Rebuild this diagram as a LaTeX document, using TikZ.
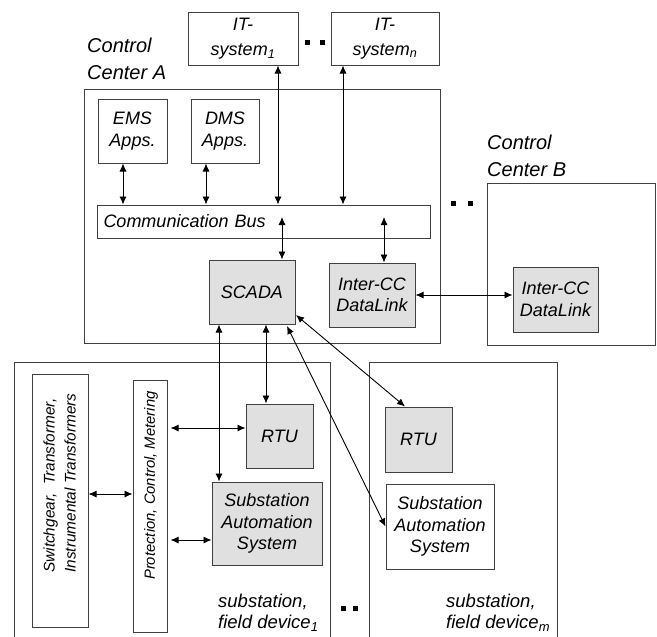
\documentclass[tikz,border=0pt]{standalone}
\usepackage{fontspec}
\setmainfont{Liberation Sans}
\usetikzlibrary{arrows.meta}
\begin{document}
\begin{tikzpicture}[x=1pt,y=-1pt,
  box/.style={draw=black!75, line width=1pt, inner sep=0pt, align=center, font=\fontsize{18}{21.5}\selectfont\itshape},
  gbox/.style={box, fill=black!12},
  rtext/.style={rotate=90, anchor=west, inner sep=0pt, align=left, font=\fontsize{15.4}{21}\selectfont\itshape},
  arr/.style={<->, >={Latex[length=8pt,width=7pt]}, line width=0.9pt},
  lbl/.style={inner sep=0pt, align=left, anchor=west, font=\fontsize{20}{27}\selectfont\itshape},
  sublbl/.style={inner sep=0pt, align=left, anchor=west, font=\fontsize{18.5}{21}\selectfont\itshape},
  sq/.style={fill=black, minimum size=5pt, inner sep=0pt}]
\useasboundingbox (0,0) rectangle (657,637);

% containers
\node[box, minimum width=356, minimum height=254] (cca) at (262,216) {};
\node[box, minimum width=168, minimum height=162] (ccb) at (571,264) {};
\node[box, minimum width=316, minimum height=283] (sub1) at (172,503.5) {};
\node[box, minimum width=188, minimum height=283] (subm) at (463,503.5) {};

% IT systems
\node[box, minimum width=110, minimum height=53, font=\fontsize{18}{25}\selectfont\itshape] (it1) at (243,38.5) {IT-\\system\textsubscript{1}};
\node[box, minimum width=108, minimum height=53, font=\fontsize{18}{25}\selectfont\itshape] (itn) at (385,38.5) {IT-\\system\textsubscript{n}};

% control center A
\node[box, minimum width=69, minimum height=64] (ems) at (132.5,131) {EMS\\Apps.};
\node[box, minimum width=68, minimum height=64] (dms) at (225,131) {DMS\\Apps.};
\node[box, minimum width=333, minimum height=33, text width=320, inner xsep=6.5pt, align=left] (bus) at (263.5,221.5) {Communication Bus};
\node[gbox, minimum width=86, minimum height=64] (scada) at (252,292) {SCADA};
\node[gbox, minimum width=86, minimum height=64] (icca) at (372,295) {Inter-CC\\DataLink};

% control center B
\node[gbox, minimum width=85, minimum height=65] (iccb) at (555.5,299.5) {Inter-CC\\DataLink};

% substation 1
\node[box, minimum width=56, minimum height=253] (sw) at (60,500.5) {};
\node[rtext] (swt) at (59.5,573) {Switchgear,\ \ Transformer,\\Instrumental Transformers};
\node[box, minimum width=34, minimum height=252] (pcm) at (150,506) {};
\node[rtext, font=\fontsize{14.8}{21}\selectfont\itshape] (pcmt) at (151,580) {Protection, Control, Metering};
\node[gbox, minimum width=67, minimum height=64] (rtu1) at (279.5,436) {RTU};
\node[gbox, minimum width=110, minimum height=83] (sas1) at (267,523.5) {Substation\\Automation\\System};

% substation m
\node[gbox, minimum width=67, minimum height=65] (rtum) at (418.5,439.5) {RTU};
\node[box, fill=white, minimum width=108, minimum height=85] (sasm) at (440,526.5) {Substation\\Automation\\System};

% labels
\node[lbl] (lcca) at (87,59) {Control\\Center A};
\node[lbl] (lccb) at (487,156) {Control\\Center B};
\node[sublbl] (ls1) at (218,613) {substation,\\field device\textsubscript{1}};
\node[sublbl] (lsm) at (446,613) {substation,\\field device\textsubscript{m}};

% dots
\node[sq] (d1) at (307,42) {}; \node[sq] (d2) at (322,42) {};
\node[sq] (d3) at (453,203) {}; \node[sq] (d4) at (470,203) {};
\node[sq] (d5) at (343,608) {}; \node[sq] (d6) at (355,608) {};

% helper coordinates
\coordinate (xems) at (123,0);
\coordinate (xdms) at (206,0);
\coordinate (xit1) at (278,0);
\coordinate (xitn) at (343,0);
\coordinate (busa) at (282,217);
\coordinate (busb) at (384,217);
\coordinate (xs1) at (219,0);
\coordinate (xr1) at (266,0);
\coordinate (scm) at (287,326);
\coordinate (scr) at (296,315);
\coordinate (xrm) at (405,0);
\coordinate (y494) at (0,494);
\coordinate (y428) at (0,428);
\coordinate (y540) at (0,540);

% connectors
\draw[arr] (xems |- ems.south) -- (xems |- bus.north);
\draw[arr] (xdms |- dms.south) -- (xdms |- bus.north);
\draw[arr] (xit1 |- it1.south) -- (xit1 |- bus.north);
\draw[arr] (xitn |- itn.south) -- (xitn |- bus.north);
\draw[arr] (busa) -- (busa |- scada.north);
\draw[arr] (busb) -- (busb |- icca.north);
\draw[arr] (icca.east) -- (iccb.west |- icca.east);
\draw[arr] (xs1 |- scada.south) -- (xs1 |- sas1.north);
\draw[arr] (xr1 |- scada.south) -- (xr1 |- rtu1.north);
\draw[arr] (scm) -- (sasm.west);
\draw[arr] (scr) -- (xrm |- rtum.north);
\draw[arr] (sw.east |- y494) -- (pcm.west |- y494);
\draw[arr, shorten <=3pt] (pcm.east |- y428) -- (rtu1.west |- y428);
\draw[arr, shorten <=3pt] (pcm.east |- y540) -- (sas1.west |- y540);
\end{tikzpicture}
\end{document}
